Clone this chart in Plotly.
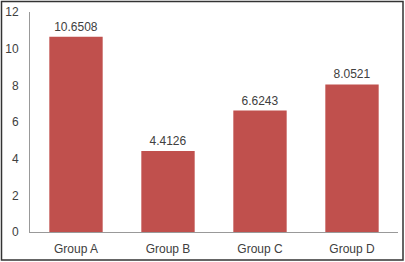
import plotly.graph_objects as go

categories = ["Group A", "Group B", "Group C", "Group D"]
values = [10.6508, 4.4126, 6.6243, 8.0521]
labels = ["10.6508", "4.4126", "6.6243", "8.0521"]
y_ticks = [0, 2, 4, 6, 8, 10, 12]

W, H = 405, 262
L, R, T, B = 30, 7, 12, 30
pw, ph = W - L - R, H - T - B

fig = go.Figure(go.Bar(
    x=categories, y=values, text=labels, textposition="outside",
    textfont=dict(size=12, color="#404040"),
    marker=dict(color="#C0504D", line=dict(width=0)),
    width=0.58, cliponaxis=False,
))

def px2x(px):
    return (px - L) / pw

def py2y(py):
    return (H - B - py) / ph

fig.add_shape(type="rect", xref="paper", yref="paper",
              x0=px2x(1.5), x1=px2x(403), y0=py2y(260), y1=py2y(1.5),
              line=dict(color="#333333", width=1.5), fillcolor="rgba(0,0,0,0)",
              layer="above")

fig.update_layout(
    width=W, height=H,
    margin=dict(l=L, r=R, t=T, b=B, autoexpand=False),
    paper_bgcolor="white", plot_bgcolor="white",
    font=dict(family="Liberation Sans, Arial, sans-serif", size=12, color="#404040"),
    showlegend=False,
    xaxis=dict(showline=True, linecolor="#999999", linewidth=1, ticks="",
               showgrid=False, automargin=False, ticklabelstandoff=6,
               tickfont=dict(size=12, color="#404040")),
    yaxis=dict(range=[0, 12], tickvals=y_ticks, showline=True, linecolor="#999999",
               linewidth=1, ticks="", showgrid=False, zeroline=False, automargin=False,
               ticklabelstandoff=8, tickfont=dict(size=12, color="#404040")),
)

fig.write_html("out.html", config={"displayModeBar": False},
               post_script="document.body.style.margin='0';document.body.style.overflow='hidden';")
